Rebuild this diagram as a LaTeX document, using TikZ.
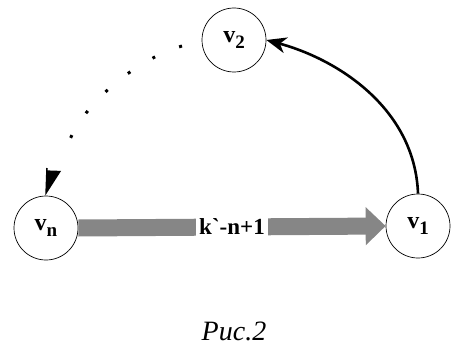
\documentclass[tikz,border=0pt]{standalone}
\usepackage{fontspec}
\setmainfont{Liberation Serif}
\newfontfamily\serifb{Liberation Serif}
\usetikzlibrary{arrows.meta}
\tikzset{
  vert/.style={circle,draw=black,line width=0.7pt,minimum size=64pt,inner sep=0pt,
    font=\serifb\bfseries\fontsize{24}{24}\selectfont},
  flow/.style={draw=gray!95,line width=17pt,-{Triangle[length=20pt,width=37pt]}},
  curvearrow/.style={draw=black,line width=2.6pt,-{Stealth[length=20pt,width=16pt,inset=6pt]}},
  dotarrow/.style={draw=black,line width=3pt,line cap=butt,dash pattern=on 3pt off 26pt},
  lbl/.style={fill=white,inner sep=3pt,font=\serifb\bfseries\fontsize{23}{23}\selectfont},
  captext/.style={font=\serifb\itshape\fontsize{28}{28}\selectfont,anchor=base}
}
\newcommand{\sbx}[1]{\raisebox{-6pt}{\fontsize{19}{19}\selectfont #1}}
\begin{document}
\begin{tikzpicture}[x=1pt,y=-1pt]
\useasboundingbox (0,0) rectangle (452,345);
\node[vert] (v2) at (234,40) {v\sbx{2}};
\node[vert] (vn) at (46,228) {v\sbx{n}};
\node[vert] (v1) at (418,226) {v\sbx{1}};
\draw[flow] (vn.east) -- node[lbl] (w) {k\textasciigrave-n+1} (v1.west);
\draw[curvearrow] (v1.north) .. controls (415,110) and (340,60) .. (v2.east);
\coordinate (d0) at (182,46);
\coordinate (d5) at (68,144);
\draw[dotarrow] (d0) .. controls (140,58) and (85,100) .. (d5);
\coordinate (s) at (47,168);
\draw[line width=1.5pt,-{Triangle[harpoon,length=24pt,width=28pt]}] (s) -- (vn.north);
\node[captext] (c) at (234,340) {Рис.2};
\end{tikzpicture}
\end{document}
